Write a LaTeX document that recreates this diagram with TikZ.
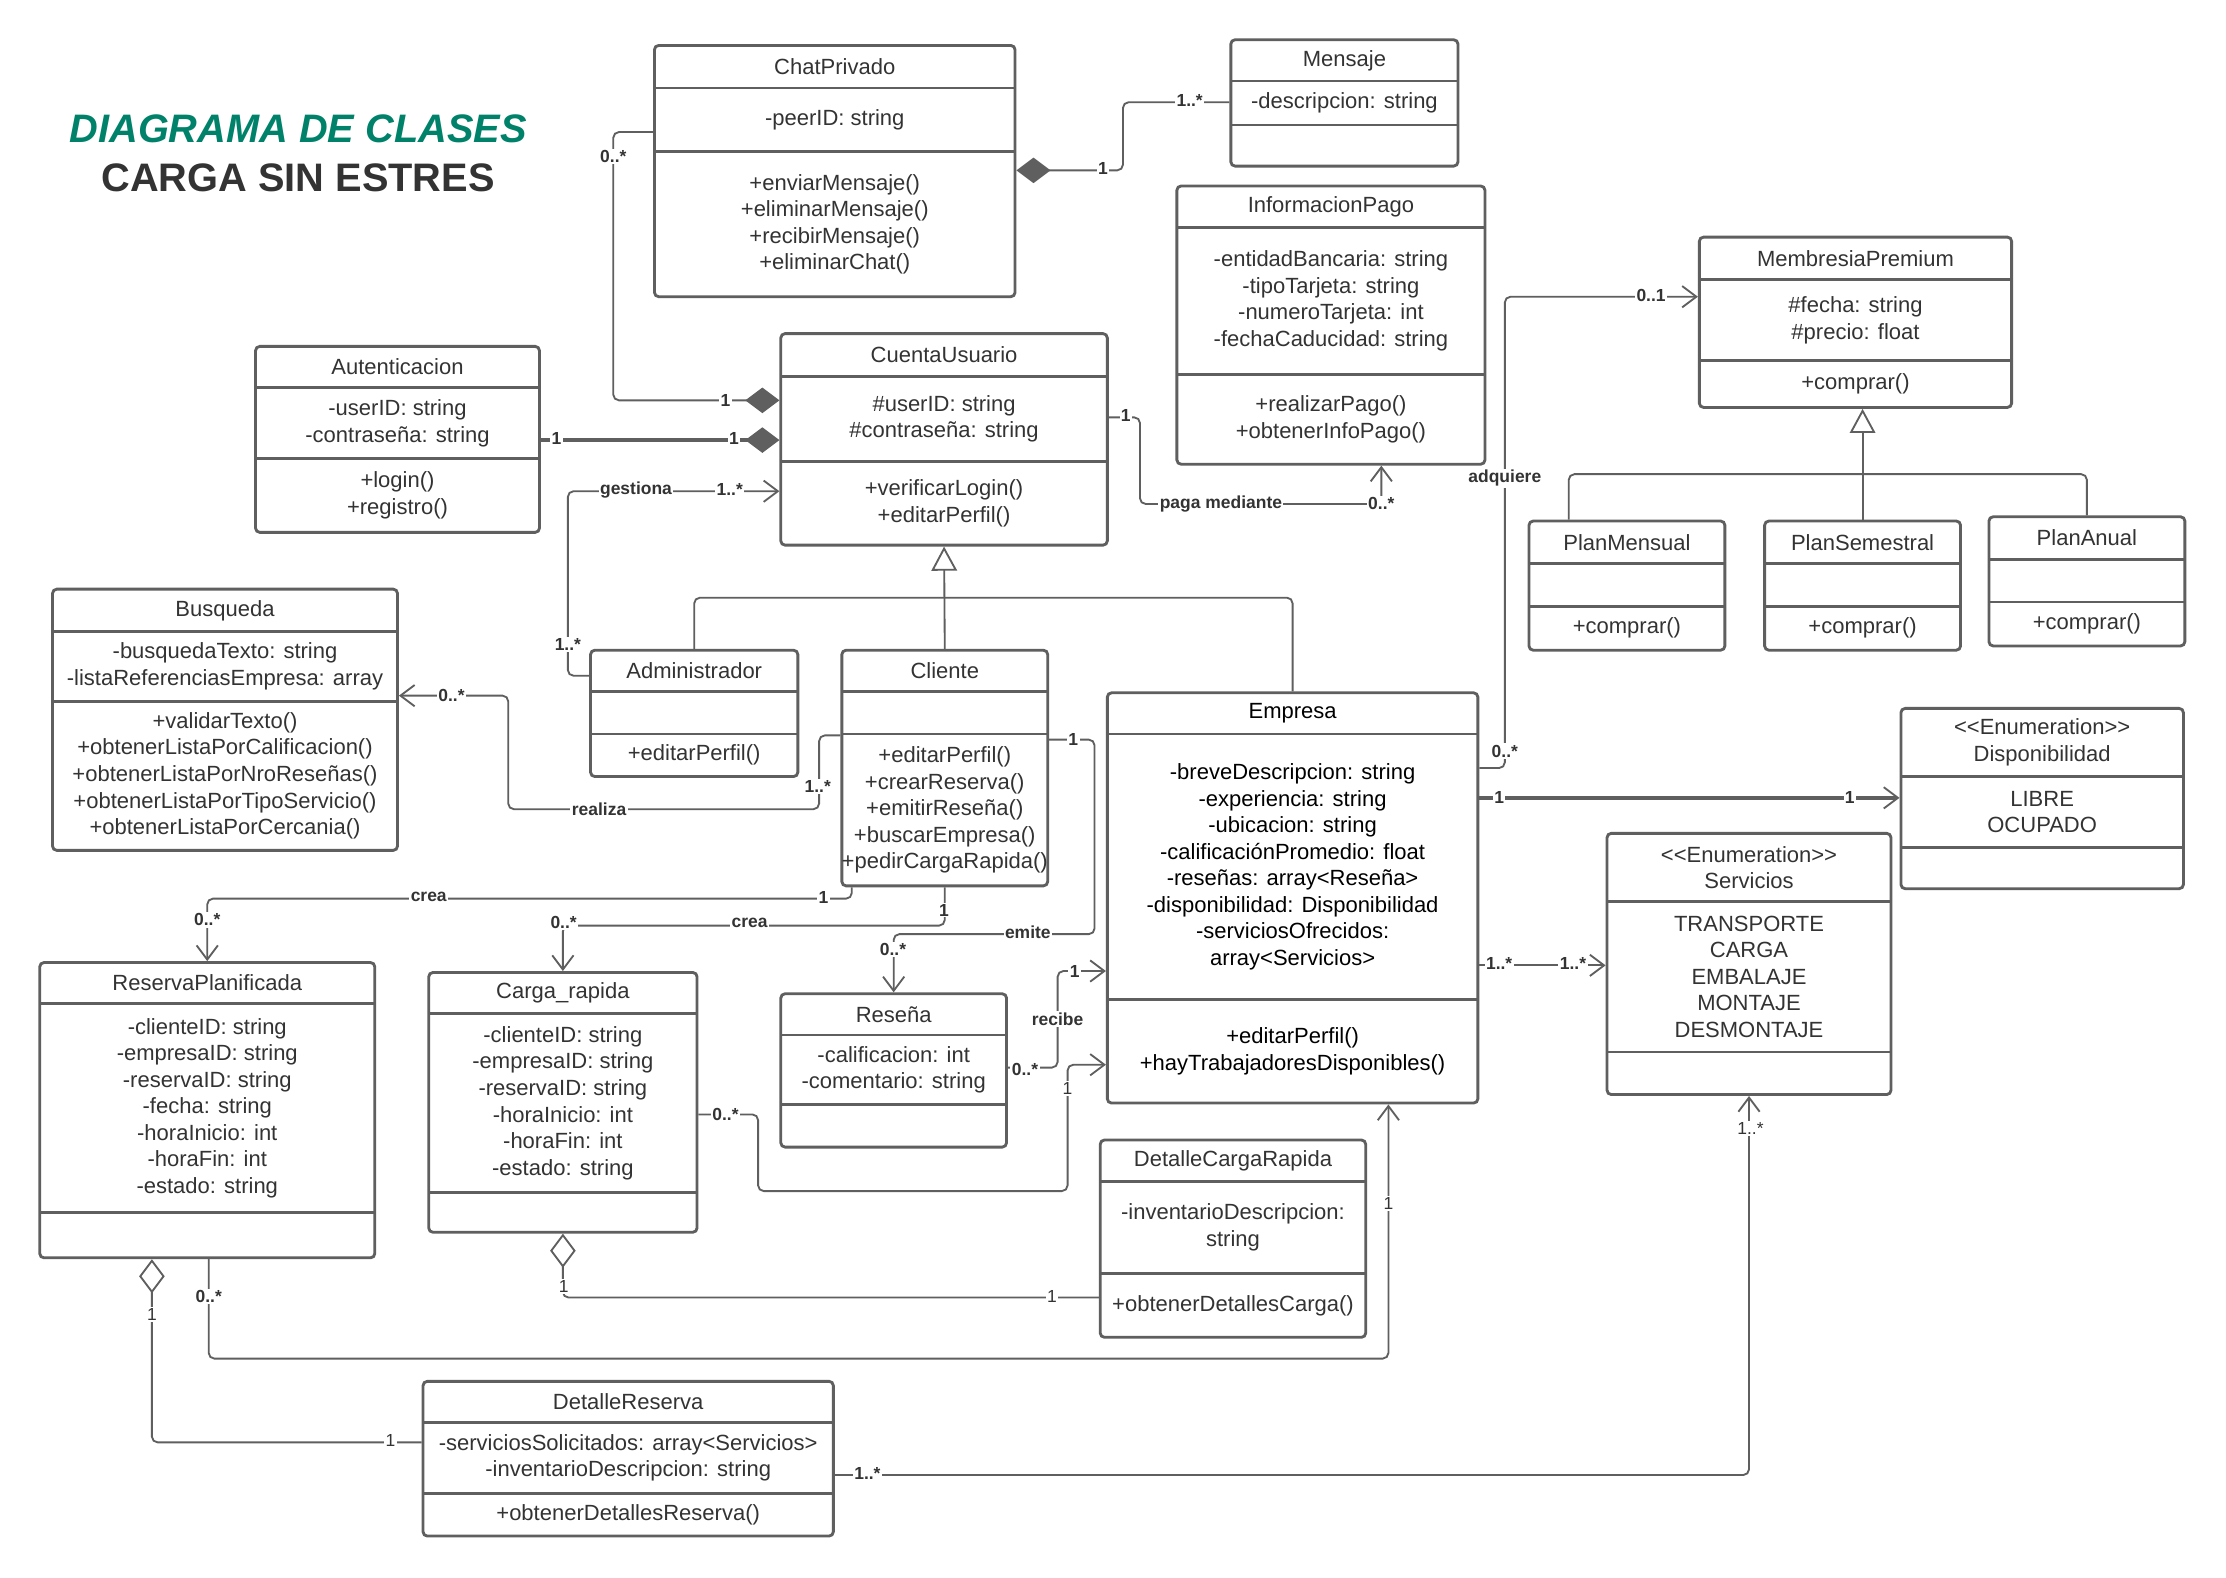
\documentclass[tikz,border=0pt]{standalone}
\usepackage{fontspec}
\setmainfont{Liberation Sans}
\usepackage{xcolor}
\usepackage{tikz}
\usetikzlibrary{arrows.meta, calc, fit}

\definecolor{linegray}{RGB}{95,95,95}
\definecolor{txtgray}{RGB}{51,51,51}
\definecolor{titlegreen}{RGB}{0,130,106}

% class box: name, top-left, bottom-right, first divider, second divider, title, attributes, methods
\newcommand{\umlclass}[8]{%
  \coordinate (#1-nw) at (#2);
  \coordinate (#1-se) at (#3);
  \node[classbox, fit=(#1-nw)(#1-se)] (#1) {};
  \draw[divider] (#1-nw |- 0,#4) -- (#1-se |- 0,#4);
  \draw[divider] (#1-nw |- 0,#5) -- (#1-se |- 0,#5);
  \node[classtxt] (#1-name) at ($(#1-nw)!.5!(#1-se |- 0,#4)$) {#6};
  \node[classtxt] (#1-attr) at ($(#1-nw |- 0,#4)!.5!(#1-se |- 0,#5)$) {#7};
  \node[classtxt] (#1-meth) at ($(#1-nw |- 0,#5)!.5!(#1-se)$) {#8};
}

\begin{document}
\begin{tikzpicture}[
    x=1pt, y=-1pt,
    classbox/.style={draw=linegray, line width=2pt, rounded corners=3pt, fill=white, inner sep=0pt},
    divider/.style={draw=linegray, line width=2pt},
    clsfg/.style={text=txtgray},
    classtxt/.style={clsfg, font=\fontsize{15.5}{18.7}\selectfont, align=center, inner sep=0pt},
    assoc/.style={draw=linegray, line width=1.3pt, rounded corners=4pt},
    thickassoc/.style={assoc, line width=2.6pt},
    nav/.style={arrows={-Straight Barb[length=10pt, width=15pt, line width=1.3pt]}},
    genarrow/.style={arrows={-Triangle[length=17pt, width=18pt, fill=white, line width=1.3pt]}},
    compo/.style={arrows={Diamond[length=24pt, width=18pt, fill=linegray]-}},
    compoend/.style={arrows={-Diamond[length=24pt, width=18pt, fill=linegray, line width=1.3pt]}},
    aggr/.style={arrows={Diamond[length=24pt, width=18pt, fill=white]-}},
    mlab/.style={fill=white, inner sep=1pt, text=txtgray, font=\bfseries\fontsize{12.3}{13}\selectfont},
    mlabr/.style={mlab, font=\fontsize{12.3}{13}\selectfont},
]
    \fill[white] (0,0) rectangle (1568,1111);
    \useasboundingbox (0,0) rectangle (1568,1111);

    % title
    \node[text=titlegreen, font=\bfseries\itshape\fontsize{28}{30}\selectfont] (title) at (210,91) {DIAGRAMA DE CLASES};
    \node[text=txtgray, font=\bfseries\fontsize{28}{30}\selectfont] (subtitle) at (210,125) {CARGA SIN ESTRES};

    % classes
    \umlclass{chat}{461,32}{715,209}{62}{107}{ChatPrivado}{-peerID: string}{+enviarMensaje()\\+eliminarMensaje()\\+recibirMensaje()\\+eliminarChat()}
    \umlclass{mensaje}{867,28}{1027,117}{57}{88}{Mensaje}{-descripcion: string}{}
    \umlclass{pago}{829,131}{1046,327}{160}{264}{InformacionPago}{-entidadBancaria: string\\-tipoTarjeta: string\\-numeroTarjeta: int\\-fechaCaducidad: string}{+realizarPago()\\+obtenerInfoPago()}
    \umlclass{premium}{1197,167}{1417,287}{197}{254}{MembresiaPremium}{\#fecha: string\\\#precio: float}{+comprar()}
    \umlclass{mensual}{1077,367}{1215,458}{397}{427}{PlanMensual}{}{+comprar()}
    \umlclass{semestral}{1243,367}{1381,458}{397}{427}{PlanSemestral}{}{+comprar()}
    \umlclass{anual}{1401,364}{1539,455}{394}{424}{PlanAnual}{}{+comprar()}
    \umlclass{auth}{180,244}{380,375}{273}{323}{Autenticacion}{-userID: string\\-contraseña: string}{+login()\\+registro()}
    \umlclass{cuenta}{550,235}{780,384}{265}{325}{CuentaUsuario}{\#userID: string\\\#contraseña: string}{+verificarLogin()\\+editarPerfil()}
    \umlclass{busqueda}{37,415}{280,599}{445}{494}{Busqueda}{-busquedaTexto: string\\-listaReferenciasEmpresa: array}{+validarTexto()\\+obtenerListaPorCalificacion()\\+obtenerListaPorNroReseñas()\\+obtenerListaPorTipoServicio()\\+obtenerListaPorCercania()}
    \umlclass{admin}{416,458}{562,547}{487}{517}{Administrador}{}{+editarPerfil()}
    \umlclass{cliente}{593,458}{738,624}{487}{517}{Cliente}{}{+editarPerfil()\\+crearReserva()\\+emitirReseña()\\+buscarEmpresa()\\+pedirCargaRapida()}
    \begin{scope}[clsfg/.style={text=black}]
    \umlclass{empresa}{780,488}{1041,777}{517}{704}{Empresa}{-breveDescripcion: string\\-experiencia: string\\-ubicacion: string\\-calificaciónPromedio: float\\-reseñas: array<Reseña>\\-disponibilidad: Disponibilidad\\-serviciosOfrecidos:\\array<Servicios>}{+editarPerfil()\\+hayTrabajadoresDisponibles()}
    \end{scope}
    \umlclass{disp}{1339,499}{1538,626}{547}{597}{<\kern0pt<Enumeration>\kern0pt>\\Disponibilidad}{LIBRE\\OCUPADO}{}
    \umlclass{servicios}{1132,587}{1332,771}{635}{741}{<\kern0pt<Enumeration>\kern0pt>\\Servicios}{TRANSPORTE\\CARGA\\EMBALAJE\\MONTAJE\\DESMONTAJE}{}
    \umlclass{reserva}{28,678}{264,886}{707}{854}{ReservaPlanificada}{-clienteID: string\\-empresaID: string\\-reservaID: string\\-fecha: string\\-horaInicio: int\\-horaFin: int\\-estado: string}{}
    \umlclass{carga}{302,685}{491,868}{714}{840}{Carga\_rapida}{-clienteID: string\\-empresaID: string\\-reservaID: string\\-horaInicio: int\\-horaFin: int\\-estado: string}{}
    \umlclass{resena}{550,700}{709,808}{729}{778}{Reseña}{-calificacion: int\\-comentario: string}{}
    \umlclass{detcarga}{775,803}{962,942}{832}{897}{DetalleCargaRapida}{-inventarioDescripcion:\\string}{+obtenerDetallesCarga()}
    \umlclass{detreserva}{298,973}{587,1082}{1002}{1052}{DetalleReserva}{-serviciosSolicitados: array<Servicios>\\-inventarioDescripcion: string}{+obtenerDetallesReserva()}

    % generalizations
    \draw[assoc] (admin.north) |- (empresa.north |- 0,421) -- (empresa.north);
    \draw[assoc, genarrow] (cliente.north) -- (cuenta.south);
    \draw[assoc] (mensual.north -| 1105,0) |- (anual.north |- 0,334) -- (anual.north);
    \draw[assoc, genarrow] (semestral.north) -- (semestral.north |- premium.south);

    % compositions and aggregations
    \draw[assoc, compo] (chat.east |- 0,120) -- (791,120) |- (mensaje.west |- 0,72);
    \draw[assoc, compoend] (chat.west |- 0,93) -| (432,282) -- (cuenta.west |- 0,282);
    \draw[thickassoc, compoend] (auth.east |- 0,310) -- (cuenta.west |- 0,310);
    \draw[assoc, aggr] (carga.south) |- (detcarga.west |- 0,914);
    \draw[assoc, aggr] (reserva.south -| 107,0) |- (detreserva.west |- 0,1016);

    % associations
    \draw[assoc, nav] (admin.west |- 0,476) -| (400,346) -- (cuenta.west |- 0,346);
    \draw[assoc, nav] (cliente.west |- 0,518) -| (577,570) -| (358,490) -- (busqueda.east |- 0,490);
    \draw[assoc, nav] (cliente.south -| 600,0) -- (600,633) -| (reserva.north);
    \draw[assoc, nav] (cliente.south) -- ++(0,27) -| (carga.north);
    \draw[assoc, nav] (cliente.east |- 0,521) -| (771,658) -| (resena.north);
    \draw[assoc, nav] (resena.east |- 0,752) -| (745,684) -- (empresa.west |- 0,684);
    \draw[assoc, nav] (carga.east |- 0,785) -| (534,839) -| (752,750) -- (empresa.west |- 0,750);
    \draw[assoc, nav] (reserva.south -| 147,0) |- (978,957) -- (empresa.south -| 978,0);
    \draw[assoc, nav] (detreserva.east |- 0,1039) -| (servicios.south);
    \draw[thickassoc, nav] (empresa.east |- 0,562) -- (disp.west |- 0,562);
    \draw[assoc, nav] (empresa.east |- 0,680) -- (servicios.west |- 0,680);
    \draw[assoc, nav] (empresa.east |- 0,541) -| (1060,209) -- (premium.west |- 0,209);
    \draw[assoc, nav] (cuenta.east |- 0,294) -| (803,355) -| (pago.south -| 973,0);

    % multiplicities and role names
    \node[mlab] (chat-m1) at (777,119) {1};
    \node[mlab] (chat-m2) at (838,71) {1..*};
    \node[mlab] (chcu-m1) at (432,110) {0..*};
    \node[mlab] (chcu-m2) at (511,282) {1};
    \node[mlab] (auth-m1) at (392,309) {1};
    \node[mlab] (auth-m2) at (517,309) {1};
    \node[mlab] (gest-lbl) at (448,345) {gestiona};
    \node[mlab] (gest-m1) at (514,345) {1..*};
    \node[mlab] (gest-m2) at (400,454) {1..*};
    \node[mlab] (real-m1) at (576,554) {1..*};
    \node[mlab] (real-lbl) at (422,570) {realiza};
    \node[mlab] (real-m2) at (318,490) {0..*};
    \node[mlab] (crea1-m1) at (580,632) {1};
    \node[mlab] (crea1-lbl) at (302,632) {crea};
    \node[mlab] (crea1-m2) at (146,648) {0..*};
    \node[mlab] (crea2-m1) at (665,641) {1};
    \node[mlab] (crea2-lbl) at (528,650) {crea};
    \node[mlab] (crea2-m2) at (397,650) {0..*};
    \node[mlab] (emit-m1) at (756,521) {1};
    \node[mlab] (emit-lbl) at (724,657) {emite};
    \node[mlab] (emit-m2) at (629,669) {0..*};
    \node[mlab] (reci-m1) at (722,753) {0..*};
    \node[mlab] (reci-m2) at (757,684) {1};
    \node[mlab] (reci-lbl) at (745,718) {recibe};
    \node[mlab] (caem-m1) at (511,785) {0..*};
    \node[mlabr] (caem-m2) at (752,767) {1};
    \node[mlabr] (cadc-m1) at (397,906) {1};
    \node[mlabr] (cadc-m2) at (741,913) {1};
    \node[mlabr] (rsdr-m1) at (107,926) {1};
    \node[mlabr] (rsdr-m2) at (275,1015) {1};
    \node[mlab] (rsem-m1) at (147,913) {0..*};
    \node[mlabr] (rsem-m2) at (978,848) {1};
    \node[mlab] (drsv-m1) at (611,1038) {1..*};
    \node[mlabr] (drsv-m2) at (1233,795) {1..*};
    \node[mlab] (emdi-m1) at (1056,562) {1};
    \node[mlab] (emdi-m2) at (1303,562) {1};
    \node[mlab] (emsv-m1) at (1056,679) {1..*};
    \node[mlab] (emsv-m2) at (1108,679) {1..*};
    \node[mlab] (adq-m1) at (1060,529) {0..*};
    \node[mlab] (adq-lbl) at (1060,337) {adquiere};
    \node[mlab] (adq-m2) at (1163,208) {0..1};
    \node[mlab] (paga-m1) at (793,293) {1};
    \node[mlab] (paga-lbl) at (860,355) {paga mediante};
    \node[mlab] (paga-m2) at (973,355) {0..*};
\end{tikzpicture}
\end{document}
